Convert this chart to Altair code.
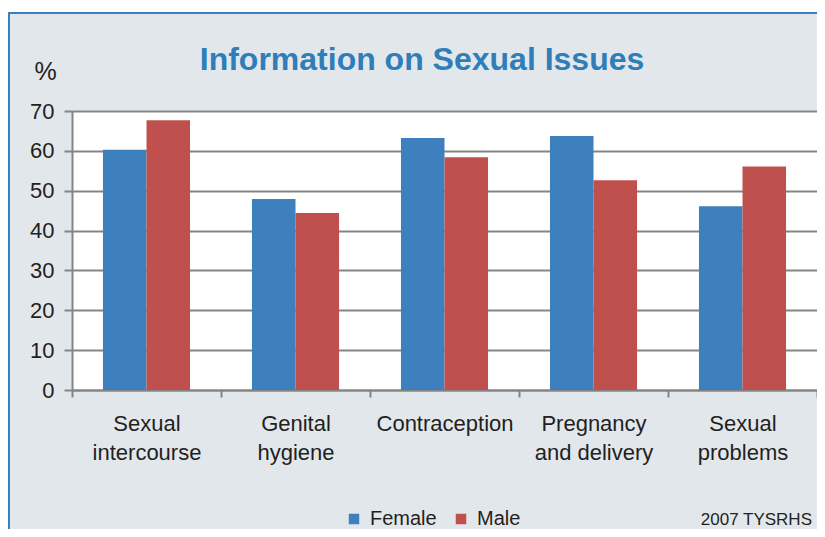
import altair as alt
import pandas as pd

categories = ["Sexual intercourse", "Genital hygiene", "Contraception",
              "Pregnancy and delivery", "Sexual problems"]
female = [60.3, 47.9, 63.2, 63.7, 46.1]
male = [67.7, 44.4, 58.4, 52.6, 56.1]
series = ["Female", "Male"]
colors = ["#3D80BD", "#C0504D"]
y_ticks = [0, 10, 20, 30, 40, 50, 60, 70]

rows = []
for i, c in enumerate(categories):
    rows.append({"cat": c, "sex": "Female", "pct": female[i]})
    rows.append({"cat": c, "sex": "Male", "pct": male[i]})
df = pd.DataFrame(rows)

TXT = "#231F20"
GRID = "#858585"
FONT = "Liberation Sans"
FRAME = "#3A7FBF"

bars = alt.Chart(df).mark_bar().encode(
    x=alt.X("cat:N", sort=categories, title=None,
            scale=alt.Scale(paddingInner=0, paddingOuter=0),
            axis=alt.Axis(labelAngle=0, tickBand="extent", labelFontSize=22,
                          labelColor=TXT, labelFont=FONT, labelLineHeight=29,
                          labelPadding=16, tickSize=7, tickColor=GRID, tickWidth=2,
                          domainColor=GRID, domainWidth=2, grid=False,
                          labelBaseline="top",
                          labelExpr="isValid(datum.value) ? (datum.value == 'Pregnancy and delivery' ? ['Pregnancy', 'and delivery'] : split(datum.value, ' ')) : ''")),
    xOffset=alt.XOffset("sex:N", sort=series,
                        scale=alt.Scale(paddingInner=0, paddingOuter=0.711)),
    y=alt.Y("pct:Q", title=None,
            scale=alt.Scale(domain=[0, 70], nice=False),
            axis=alt.Axis(values=y_ticks, labelFontSize=22, labelColor=TXT,
                          labelFont=FONT, labelPadding=10, tickSize=8,
                          tickColor=GRID, tickWidth=2, domainColor=GRID,
                          domainWidth=2, gridColor=GRID, gridWidth=2)),
    color=alt.Color("sex:N", sort=series,
                    scale=alt.Scale(domain=series, range=colors),
                    legend=alt.Legend(title=None, orient="none", legendX=272,
                                      legendY=398, direction="horizontal",
                                      symbolType="square", symbolSize=110,
                                      symbolStrokeWidth=0, labelFontSize=20,
                                      labelFont=FONT, labelColor=TXT,
                                      labelOffset=6, columnPadding=14,
                                      padding=0)),
)

pct_label = alt.Chart(pd.DataFrame({"t": ["%"]})).mark_text(
    fontSize=25, font=FONT, color=TXT, align="center", baseline="alphabetic"
).encode(text="t:N", x=alt.value(-26.5), y=alt.value(-31.5))

source = alt.Chart(pd.DataFrame({"t": ["2007 TYSRHS"]})).mark_text(
    fontSize=17, font=FONT, color=TXT, align="right", baseline="alphabetic"
).encode(text="t:N", x=alt.value(740), y=alt.value(414))

top_strip = alt.Chart(pd.DataFrame({"k": [0]})).mark_rect(color="white").encode(
    x=alt.value(-64), x2=alt.value(745), y=alt.value(-103), y2=alt.value(-99))

frame_top = alt.Chart(pd.DataFrame({"k": [0]})).mark_rule(
    color=FRAME, strokeWidth=2).encode(
    x=alt.value(-64), x2=alt.value(745), y=alt.value(-98))

frame_left = alt.Chart(pd.DataFrame({"k": [0]})).mark_rule(
    color=FRAME, strokeWidth=2).encode(
    x=alt.value(-63), y=alt.value(-99), y2=alt.value(418))

chart = alt.layer(top_strip, frame_top, frame_left, bars, pct_label, source).properties(
    width=745, height=279,
    autosize=alt.AutoSizeParams(type="none"),
    padding={"left": 64, "top": 103, "right": 0, "bottom": 139},
    background="#E2E7EC",
    title=alt.Title("Information on Sexual Issues", fontSize=32, font=FONT,
                    fontWeight="bold", color="#2E7EBA", anchor="middle",
                    dx=-22.5, dy=94, offset=0, baseline="alphabetic"),
).configure_view(fill="white", stroke=None)

chart.save("out.html", embed_options={"renderer": "svg", "actions": False})
